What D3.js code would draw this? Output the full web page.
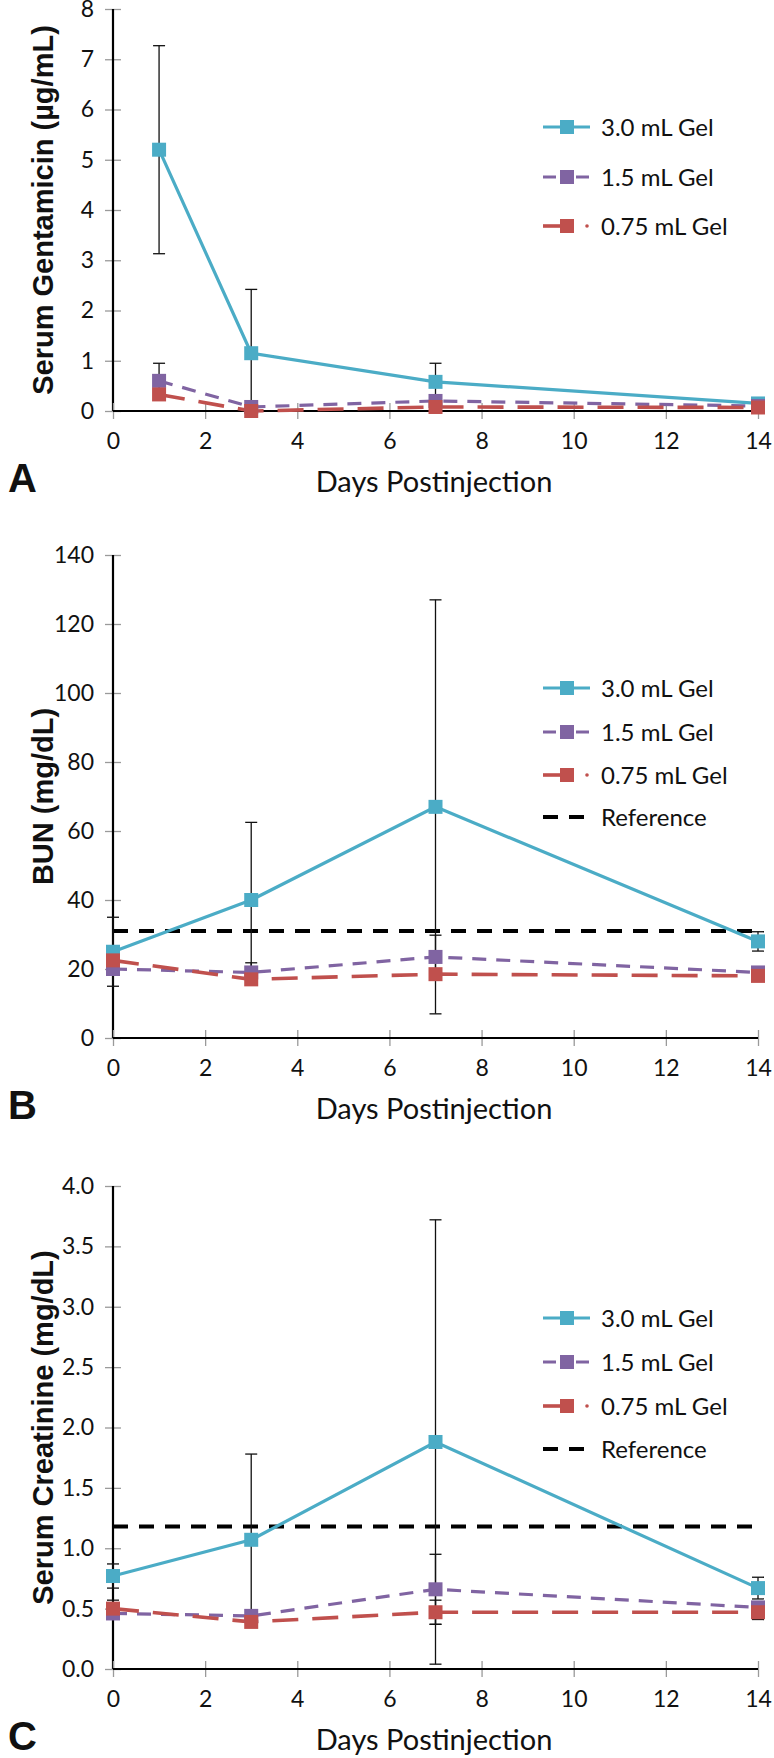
<!DOCTYPE html>
<html><head><meta charset="utf-8">
<script src="https://cdn.jsdelivr.net/npm/d3@7"></script>
<style>
body{margin:0;background:#fff;}
svg{display:block;}
</style></head>
<body>
<svg id="chart" width="774" height="1758"></svg>
<script>
// ---- data ----
const seriesNames = ["3.0 mL Gel", "1.5 mL Gel", "0.75 mL Gel"];
const referenceName = "Reference";
const xTicks = [0, 2, 4, 6, 8, 10, 12, 14];

// Panel A: Serum Gentamicin
const daysA = [1, 3, 7, 14];
const gent30 = [5.2, 1.15, 0.58, 0.15];
const gent30Err = [2.07, 1.27, 0.37, 0.04];
const gent15 = [0.6, 0.08, 0.2, 0.1];
const gent15Err = [0.35, 0.04, 0.08, 0.03];
const gent075 = [0.33, 0.0, 0.08, 0.07];
const gent075Err = [0.08, 0.02, 0.04, 0.02];
const ticksA = [0, 1, 2, 3, 4, 5, 6, 7, 8];

// Panel B: BUN
const daysB = [0, 3, 7, 14];
const bun30 = [25, 40, 67, 28];
const bun30Err = [10, 22.5, 60, 2.8];
const bun15 = [20, 19, 23.5, 19];
const bun15Err = [1.5, 2.8, 6.3, 1];
const bun075 = [22.5, 17, 18.5, 18];
const bun075Err = [1.5, 1, 1.5, 1];
const bunRef = 31;
const ticksB = [0, 20, 40, 60, 80, 100, 120, 140];

// Panel C: Serum Creatinine
const daysC = [0, 3, 7, 14];
const cr30 = [0.77, 1.07, 1.88, 0.67];
const cr30Err = [0.1, 0.71, 1.84, 0.09];
const cr15 = [0.46, 0.44, 0.66, 0.51];
const cr15Err = [0.03, 0.03, 0.29, 0.03];
const cr075 = [0.50, 0.39, 0.47, 0.47];
const cr075Err = [0.07, 0.02, 0.1, 0.06];
const crRef = 1.18;
const ticksC = [0, 0.5, 1.0, 1.5, 2.0, 2.5, 3.0, 3.5, 4.0];

// ---- styles ----
const colors = ["#4bacc6", "#8064a2", "#c0504d"];
const dashes = [null, "14,10", "26,14"];
const refDash = "15,11";
const tickFont = "Lato, 'Open Sans', sans-serif";
const svg = d3.select("#chart");
const X0 = 113, X1 = 758;

function panel(cfg) {
  const x = d3.scaleLinear().domain([0, 14]).range([X0, X1]);
  const y = d3.scaleLinear().domain([0, cfg.yMax]).range([cfg.bottom, cfg.top]).clamp(true);
  const g = svg.append("g");

  // y axis
  const ya = g.append("g").attr("transform", `translate(${X0},0)`)
    .call(d3.axisLeft(y).tickValues(cfg.yTicks).tickFormat(cfg.fmt).tickSize(8).tickPadding(10));
  ya.select(".domain").remove();
  ya.selectAll(".tick line").attr("stroke", "#9a9a9a").attr("x2", 8).attr("x1", -8).attr("stroke-width", 1.3);
  ya.selectAll(".tick text").attr("font-family", tickFont).attr("font-size", 23).attr("fill", "#111").attr("x", -19);
  g.append("line").attr("x1", X0).attr("x2", X0).attr("y1", cfg.top).attr("y2", cfg.bottom)
    .attr("stroke", "#000").attr("stroke-width", 2.2);

  // x axis
  const xa = g.append("g").attr("transform", `translate(0,${cfg.bottom})`)
    .call(d3.axisBottom(x).tickValues(xTicks).tickSize(8).tickPadding(14));
  xa.select(".domain").remove();
  xa.selectAll(".tick line").attr("stroke", "#9a9a9a").attr("y1", -8).attr("y2", 8).attr("stroke-width", 1.3);
  xa.selectAll(".tick text").attr("font-family", tickFont).attr("font-size", 23).attr("fill", "#111");
  g.append("line").attr("x1", X0).attr("x2", X1).attr("y1", cfg.bottom).attr("y2", cfg.bottom)
    .attr("stroke", "#000").attr("stroke-width", 2.2);

  // reference line
  if (cfg.ref != null) {
    g.append("line").attr("x1", X0).attr("x2", X1).attr("y1", y(cfg.ref)).attr("y2", y(cfg.ref))
      .attr("stroke", "#000").attr("stroke-width", 4).attr("stroke-dasharray", refDash);
  }

  const line = d3.line().x(d => x(d[0])).y(d => y(d[1]));
  cfg.series.forEach((s, i) => {
    const pts = cfg.days.map((d, k) => [d, s.v[k]]);
    g.append("path").attr("d", line(pts)).attr("fill", "none")
      .attr("stroke", colors[i]).attr("stroke-width", i === 2 ? 3.6 : 3.2)
      .attr("stroke-dasharray", dashes[i]);
  });
  // error bars
  cfg.series.forEach((s, i) => {
    cfg.days.forEach((d, k) => {
      const cx = x(d);
      const lo = s.v[k] - s.e[k], hi = s.v[k] + s.e[k];
      g.append("line").attr("x1", cx).attr("x2", cx).attr("y1", y(lo)).attr("y2", y(hi))
        .attr("stroke", "#111").attr("stroke-width", 1.3);
      [lo, hi].forEach(v => {
        if (v < 0) return;
        g.append("line").attr("x1", cx - 6).attr("x2", cx + 6).attr("y1", y(v)).attr("y2", y(v))
          .attr("stroke", "#111").attr("stroke-width", 1.3);
      });
    });
  });
  // markers
  cfg.series.forEach((s, i) => {
    g.selectAll(null).data(cfg.days.map((d, k) => [d, s.v[k]])).enter().append("rect")
      .attr("x", d => x(d[0]) - 7).attr("y", d => y(d[1]) - 7)
      .attr("width", 14).attr("height", 14).attr("fill", colors[i]);
  });

  // legend
  const names = cfg.ref != null ? seriesNames.concat([referenceName]) : seriesNames;
  names.forEach((n, i) => {
    const ly = cfg.legendY[i];
    const lg = g.append("g");
    if (i === 0) {
      lg.append("line").attr("x1", 543).attr("x2", 590).attr("y1", ly).attr("y2", ly)
        .attr("stroke", colors[i]).attr("stroke-width", 3.2);
    } else if (i === 1) {
      lg.append("line").attr("x1", 543).attr("x2", 589).attr("y1", ly).attr("y2", ly)
        .attr("stroke", colors[i]).attr("stroke-width", 3.2).attr("stroke-dasharray", "13,4,12,4,13");
    } else if (i === 2) {
      lg.append("line").attr("x1", 543).attr("x2", 563).attr("y1", ly).attr("y2", ly)
        .attr("stroke", colors[i]).attr("stroke-width", 3.6);
      lg.append("circle").attr("cx", 587).attr("cy", ly).attr("r", 1.8).attr("fill", colors[i]);
    } else {
      lg.append("line").attr("x1", 543).attr("x2", 590).attr("y1", ly).attr("y2", ly)
        .attr("stroke", "#000").attr("stroke-width", 4).attr("stroke-dasharray", refDash);
    }
    if (i < 3) {
      lg.append("rect").attr("x", 560).attr("y", ly - 7).attr("width", 14).attr("height", 14).attr("fill", colors[i]);
    }
    lg.append("text").attr("x", 601).attr("y", ly).attr("dy", "0.36em")
      .attr("font-family", tickFont).attr("font-size", 24)
      .attr("fill", "#111").text(n);
  });

  // y title
  g.append("text").attr("transform", `translate(53,${(cfg.top + cfg.bottom) / 2}) rotate(-90)`)
    .attr("text-anchor", "middle")
    .attr("font-family", "'Liberation Sans',Arial,sans-serif").attr("font-weight", "bold")
    .attr("font-size", 29).attr("fill", "#111").text(cfg.yTitle);
  // x title
  g.append("text").attr("x", 434).attr("y", cfg.bottom + 81).attr("text-anchor", "middle")
    .attr("font-family", tickFont).attr("font-size", 29)
    .attr("fill", "#111").text("Days Postinjection");
  // panel letter
  g.append("text").attr("x", 8).attr("y", cfg.bottom + 81)
    .attr("font-family", "'Liberation Sans',Arial,sans-serif").attr("font-weight", "bold")
    .attr("font-size", 40).attr("fill", "#111").text(cfg.letter);
}

panel({
  top: 9, bottom: 411, yMax: 8, yTicks: ticksA, fmt: d3.format("d"),
  days: daysA,
  series: [{v: gent30, e: gent30Err}, {v: gent15, e: gent15Err}, {v: gent075, e: gent075Err}],
  ref: null, legendY: [127, 177, 226],
  yTitle: "Serum Gentamicin (µg/mL)", letter: "A"
});
panel({
  top: 555, bottom: 1038, yMax: 140, yTicks: ticksB, fmt: d3.format("d"),
  days: daysB,
  series: [{v: bun30, e: bun30Err}, {v: bun15, e: bun15Err}, {v: bun075, e: bun075Err}],
  ref: bunRef, legendY: [688, 732, 775, 817],
  yTitle: "BUN (mg/dL)", letter: "B"
});
panel({
  top: 1186, bottom: 1669, yMax: 4, yTicks: ticksC, fmt: d3.format(".1f"),
  days: daysC,
  series: [{v: cr30, e: cr30Err}, {v: cr15, e: cr15Err}, {v: cr075, e: cr075Err}],
  ref: crRef, legendY: [1318, 1362, 1406, 1449],
  yTitle: "Serum Creatinine (mg/dL)", letter: "C"
});
</script>
</body></html>
